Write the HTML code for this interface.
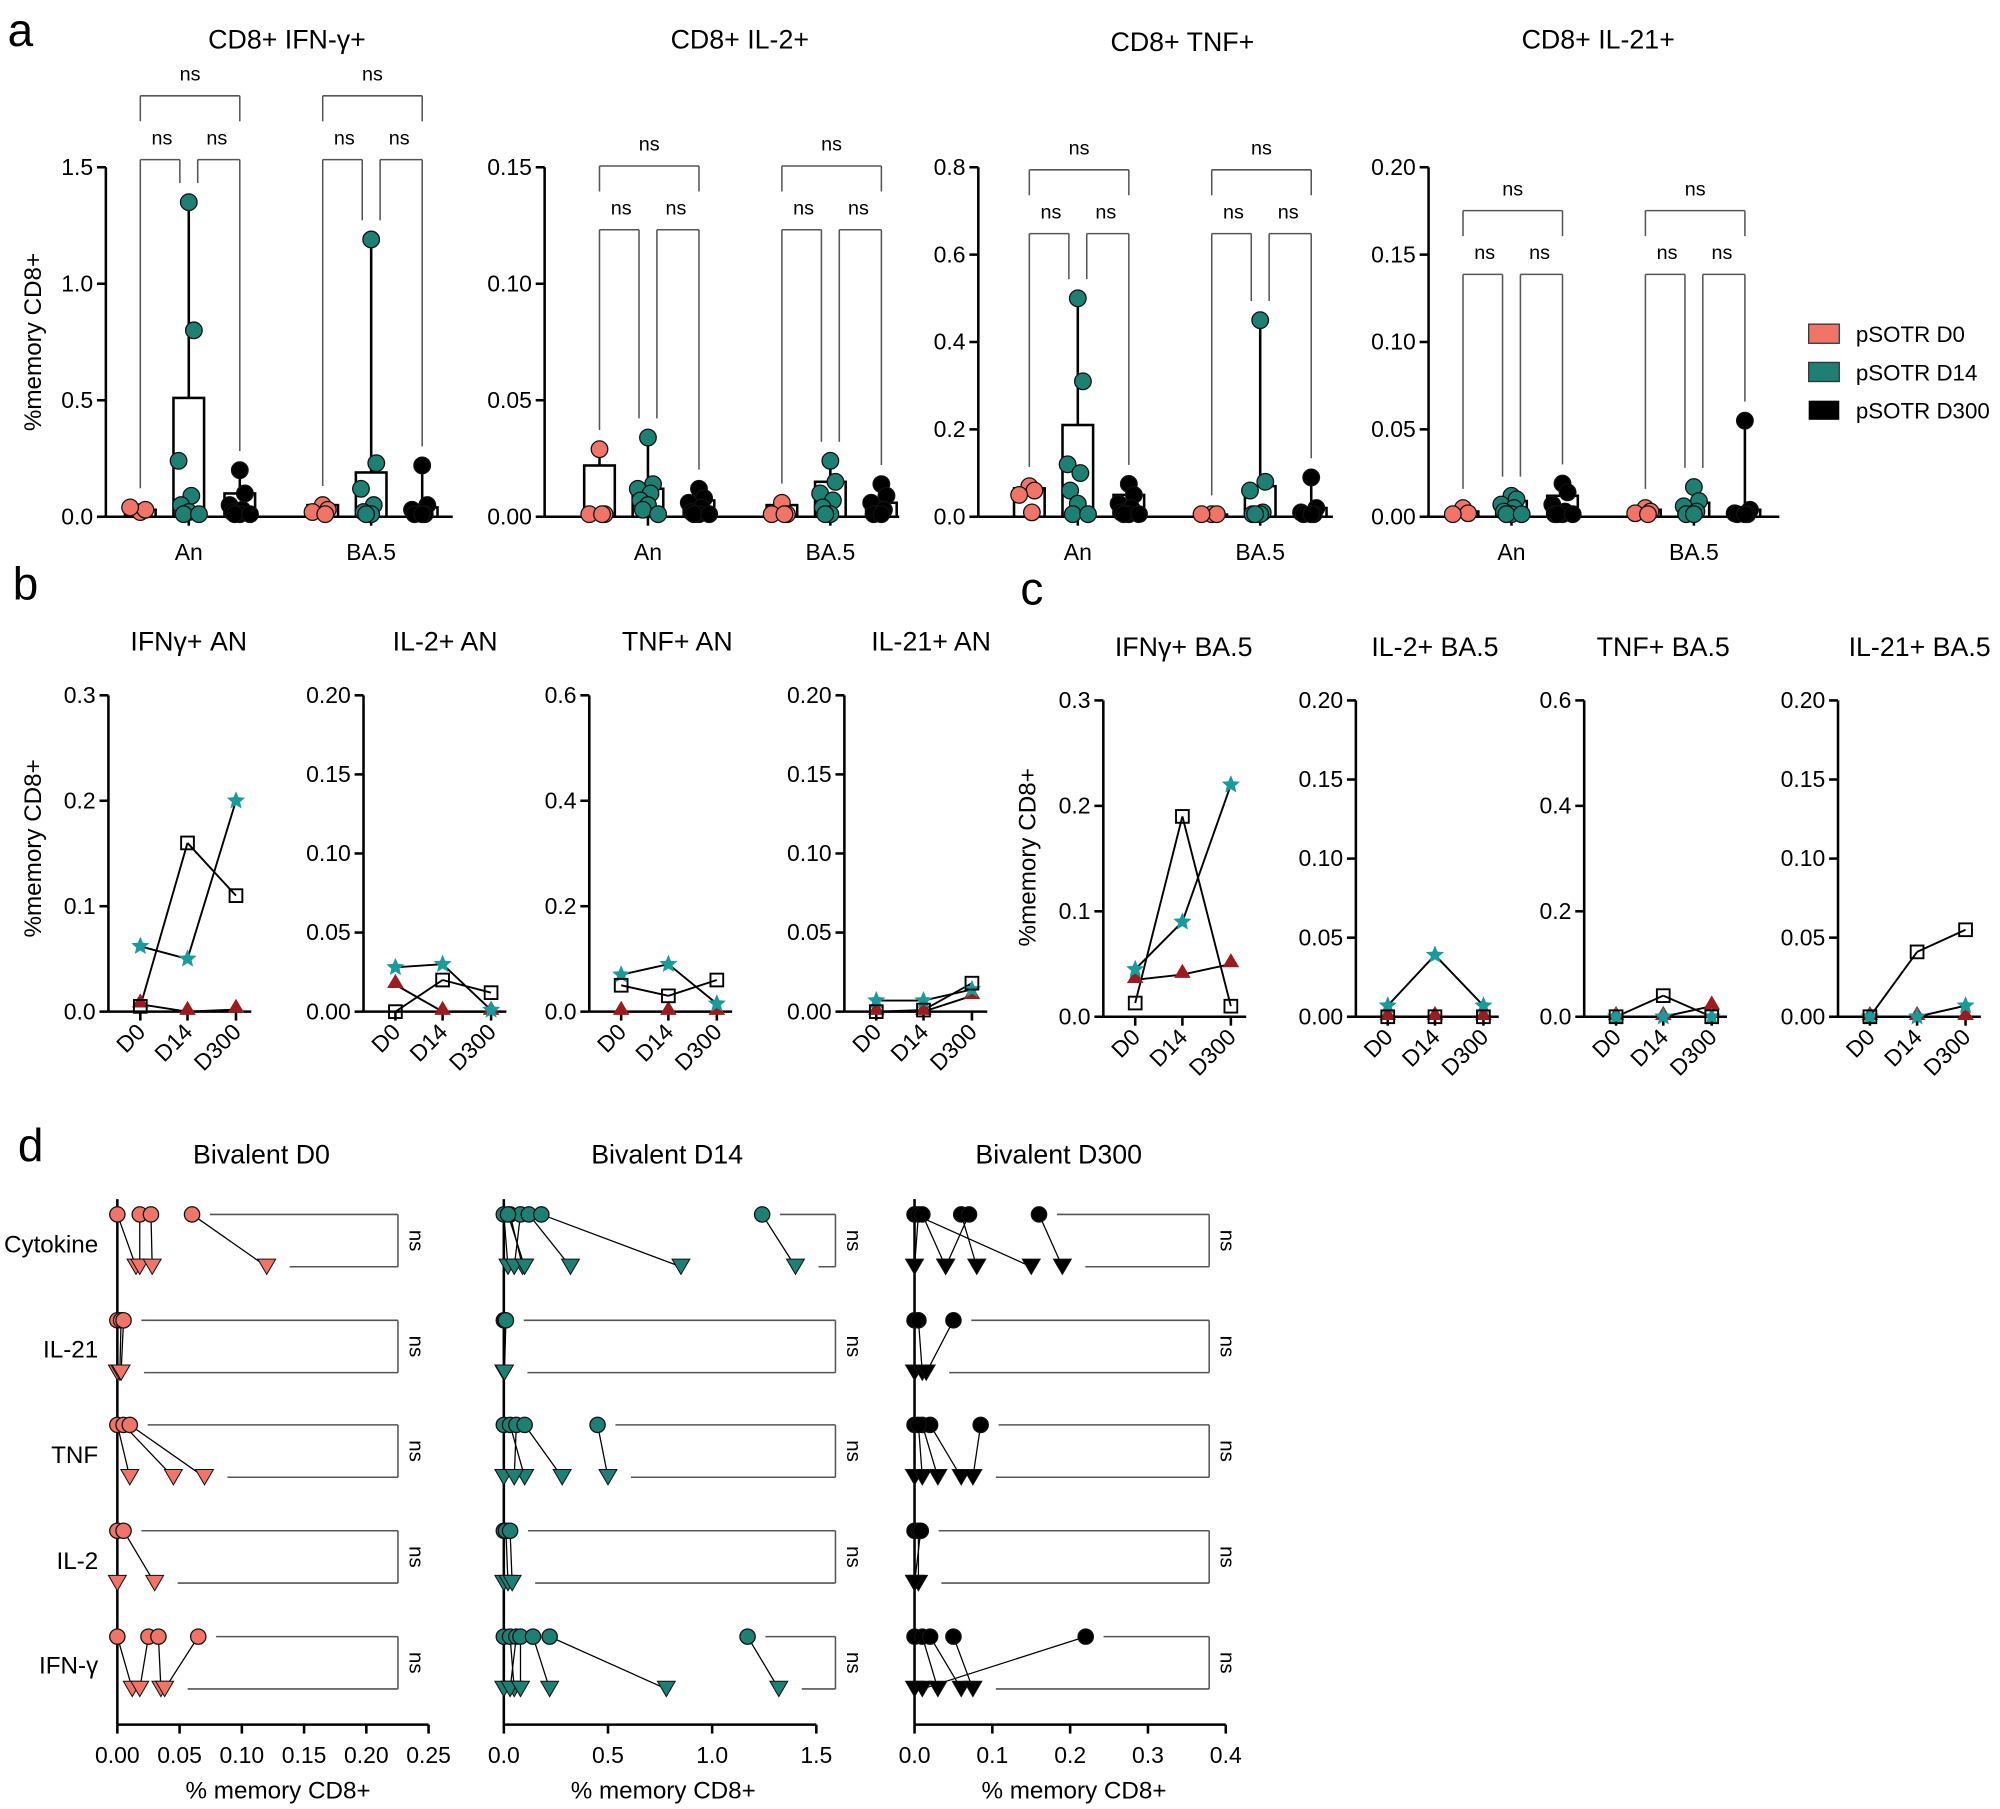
<!DOCTYPE html>
<html><head><meta charset="utf-8">
<style>
html,body{margin:0;padding:0;background:#fff;}
svg{display:block;}
text{font-family:"Liberation Sans",Arial,sans-serif;fill:#000;}
</style></head>
<body>
<svg id="s" width="2000" height="1809" viewBox="0 0 1568 1418" xmlns="http://www.w3.org/2000/svg">
<rect width="1568" height="1418" fill="#fff"/>
<text x="6" y="36" font-size="36">a</text>
<text x="10" y="470" font-size="36">b</text>
<text x="800" y="474" font-size="36">c</text>
<text x="14" y="910" font-size="36">d</text>
<text x="225" y="38" font-size="21" text-anchor="middle">CD8+ IFN-γ+</text>
<text x="580" y="38" font-size="21" text-anchor="middle">CD8+ IL-2+</text>
<text x="927" y="40" font-size="21" text-anchor="middle">CD8+ TNF+</text>
<text x="1253" y="38" font-size="21" text-anchor="middle">CD8+ IL-21+</text>
<text transform="translate(32,268) rotate(-90)" font-size="19" text-anchor="middle">%memory CD8+</text>
<text transform="translate(32,665) rotate(-90)" font-size="19" text-anchor="middle">%memory CD8+</text>
<text transform="translate(812,672) rotate(-90)" font-size="19" text-anchor="middle">%memory CD8+</text>
<rect x="1418" y="254" width="24" height="15" fill="#F07467" stroke="#333"/>
<rect x="1418" y="284" width="24" height="15" fill="#1E7F73" stroke="#333"/>
<rect x="1418" y="314" width="24" height="15" fill="#000"/>
<text x="1455" y="268" font-size="17.5">pSOTR D0</text>
<text x="1455" y="298" font-size="17.5">pSOTR D14</text>
<text x="1455" y="328" font-size="17.5">pSOTR D300</text>
<text x="148" y="510" font-size="21" text-anchor="middle">IFNγ+ AN</text>
<text x="349" y="510" font-size="21" text-anchor="middle">IL-2+ AN</text>
<text x="531" y="510" font-size="21" text-anchor="middle">TNF+ AN</text>
<text x="730" y="510" font-size="21" text-anchor="middle">IL-21+ AN</text>
<text x="928" y="514" font-size="21" text-anchor="middle">IFNγ+ BA.5</text>
<text x="1125" y="514" font-size="21" text-anchor="middle">IL-2+ BA.5</text>
<text x="1304" y="514" font-size="21" text-anchor="middle">TNF+ BA.5</text>
<text x="1505" y="514" font-size="21" text-anchor="middle">IL-21+ BA.5</text>
<text x="205" y="912" font-size="21" text-anchor="middle">Bivalent D0</text>
<text x="523" y="912" font-size="21" text-anchor="middle">Bivalent D14</text>
<text x="830" y="912" font-size="21" text-anchor="middle">Bivalent D300</text>
<text x="77" y="982" font-size="19" text-anchor="end">Cytokine</text>
<text x="77" y="1064" font-size="19" text-anchor="end">IL-21</text>
<text x="77" y="1147" font-size="19" text-anchor="end">TNF</text>
<text x="77" y="1230" font-size="19" text-anchor="end">IL-2</text>
<text x="77" y="1312" font-size="19" text-anchor="end">IFN-γ</text>
<text x="218" y="1410" font-size="19" text-anchor="middle">% memory CD8+</text>
<text x="520" y="1410" font-size="19" text-anchor="middle">% memory CD8+</text>
<text x="842" y="1410" font-size="19" text-anchor="middle">% memory CD8+</text>
<text x="148" y="439" font-size="18" text-anchor="middle">An</text>
<text x="291" y="439" font-size="18" text-anchor="middle">BA.5</text>
<text x="508" y="439" font-size="18" text-anchor="middle">An</text>
<text x="651" y="439" font-size="18" text-anchor="middle">BA.5</text>
<text x="845" y="439" font-size="18" text-anchor="middle">An</text>
<text x="988" y="439" font-size="18" text-anchor="middle">BA.5</text>
<text x="1185" y="439" font-size="18" text-anchor="middle">An</text>
<text x="1328" y="439" font-size="18" text-anchor="middle">BA.5</text>
<g id="g"></g>
</svg>
<script>
var G=document.getElementById('g'),h='';
var S='#F07467',T='#1E7F73',K='#000',ST='#1A9A9A',DR='#9B1B1E';
function L(a,b,c,d,w,col){h+='<line x1="'+a+'" y1="'+b+'" x2="'+c+'" y2="'+d+'" stroke="'+(col||'#000')+'" stroke-width="'+(w||1.5)+'"/>';}
function TX(x,y,s,fs,an,rot){h+='<text x="'+x+'" y="'+y+'" font-size="'+fs+'" text-anchor="'+(an||'middle')+'"'+(rot?' transform="rotate('+rot+' '+x+' '+y+')"':'')+'>'+s+'</text>';}
function C(x,y,r,f){h+='<circle cx="'+x+'" cy="'+y+'" r="'+r+'" fill="'+f+'" stroke="#111" stroke-width="1"/>';}
function fmt(v,d){return v.toFixed(d);}
var P=[
{x0:83,xe:355,max:1.5,tk:[0,0.5,1,1.5],d:1,gc:[148,291],bo:75,bi:125,g:[
 [[0.03,[0.02,0.03,0.04]],[0.51,[1.35,0.8,0.24,0.09,0.05,0.02,0,0]],[0.1,[0.2,0.1,0.05,0.03,0.02,0.01,0,0]]],
 [[0.05,[0.05,0.03,0.02,0.01]],[0.19,[1.19,0.23,0.12,0.05,0.02,0,0]],[0.04,[0.22,0.05,0.03,0.01,0,0]]]]},
{x0:427,xe:705,max:0.15,tk:[0,0.05,0.1,0.15],d:2,gc:[508,651],bo:130,bi:180,g:[
 [[0.022,[0.029,0.001,0.001,0.001]],[0.012,[0.034,0.014,0.012,0.01,0.007,0.005,0.003,0.001]],[0.007,[0.012,0.008,0.006,0.004,0.002,0.001,0,0]]],
 [[0.005,[0.006,0.001,0.001,0.001]],[0.015,[0.024,0.015,0.01,0.007,0.004,0.001,0.001]],[0.006,[0.014,0.009,0.006,0.003,0.001,0]]]]},
{x0:767,xe:1045,max:0.8,tk:[0,0.2,0.4,0.6,0.8],d:1,gc:[845,988],bo:133,bi:183,g:[
 [[0.065,[0.07,0.06,0.05,0.01]],[0.21,[0.5,0.31,0.12,0.1,0.06,0.03,0,0]],[0.05,[0.075,0.05,0.03,0.02,0.01,0,0,0]]],
 [[0.005,[0.005,0.003,0.002]],[0.07,[0.45,0.08,0.06,0.01,0,0,0]],[0.02,[0.09,0.02,0.01,0,0,0]]]]},
{x0:1120,xe:1395,max:0.2,tk:[0,0.05,0.1,0.15,0.2],d:2,gc:[1185,1328],bo:165,bi:215,g:[
 [[0.003,[0.005,0.002,0.001]],[0.009,[0.012,0.01,0.007,0.005,0.003,0.001,0,0]],[0.012,[0.019,0.014,0.007,0.003,0.001,0,0,0]]],
 [[0.004,[0.005,0.003,0.002,0.001]],[0.008,[0.017,0.009,0.006,0.003,0.001,0]],[0.004,[0.055,0.004,0.002,0.001,0,0]]]]}];
var Y0=405,YT=131,cols=[S,T,K],off=[-38,0,40];
P.forEach(function(p){
 function y(v){return Y0-(v/p.max)*(Y0-YT);}
 L(p.x0,YT,p.x0,Y0,2);L(p.x0,Y0,p.xe,Y0,2);
 p.tk.forEach(function(t){L(p.x0-7,y(t),p.x0,y(t),2);TX(p.x0-10,y(t)+6,fmt(t,p.d),18,'end');});
 p.gc.forEach(function(gx,gi){
  L(gx,Y0,gx,Y0+7,2);
  var tops=[];
  p.g[gi].forEach(function(s,si){
   var x=gx+off[si],mx=Math.max.apply(null,s[1]);tops.push(y(mx));
   h+='<rect x="'+(x-12)+'" y="'+y(s[0])+'" width="24" height="'+(Y0-y(s[0]))+'" fill="none" stroke="#000" stroke-width="2"/>';
   if(mx>s[0]){L(x,y(mx),x,y(s[0]),2);}
   s[1].forEach(function(v,k){var jx=(k%2?1:-1)*((k*4)%10);if(k==0)jx=0;C(x+jx,Math.min(y(v),Y0-2),6.5,cols[si]);});
  });
  var a=gx-38,b=gx,c=gx+40,g='#555';
  L(a,p.bo,c,p.bo,1.2,g);L(a,p.bo,a,p.bo+20,1.2,g);L(c,p.bo,c,p.bo+20,1.2,g);TX((a+c)/2,p.bo-12,'ns',15.5);
  var lb=function(t){return Math.max(p.bi+10,t-15);};
  L(a,p.bi,b-7,p.bi,1.2,g);L(a,p.bi,a,lb(tops[0]),1.2,g);L(b-7,p.bi,b-7,lb(tops[1]),1.2,g);
  L(b+7,p.bi,c,p.bi,1.2,g);L(b+7,p.bi,b+7,lb(tops[1]),1.2,g);L(c,p.bi,c,lb(tops[2]),1.2,g);
  TX((a+b)/2-2,p.bi-12,'ns',15.5);TX((b+c)/2+2,p.bi-12,'ns',15.5);
 });
});
function star(x,y,r,f){var pts=[];for(var i=0;i<10;i++){var a=-Math.PI/2+i*Math.PI/5,rr=i%2?r*0.45:r;pts.push((x+rr*Math.cos(a)).toFixed(1)+','+(y+rr*Math.sin(a)).toFixed(1));}h+='<polygon points="'+pts.join(' ')+'" fill="'+f+'"/>';}
function tri(x,y,r,f){h+='<polygon points="'+x+','+(y-r)+' '+(x+r)+','+(y+r*0.7)+' '+(x-r)+','+(y+r*0.7)+'" fill="'+f+'"/>';}
var B=[
{x0:85,y0:793,yt:545,max:0.3,tk:[0,0.1,0.2,0.3],d:1,sq:[0.005,0.16,0.11],st:[0.062,0.05,0.2],tr:[0.007,0,0.002]},
{x0:285,y0:793,yt:545,max:0.2,tk:[0,0.05,0.1,0.15,0.2],d:2,sq:[0,0.02,0.012],st:[0.028,0.03,0.001],tr:[0.017,0,0]},
{x0:462,y0:793,yt:545,max:0.6,tk:[0,0.2,0.4,0.6],d:1,sq:[0.05,0.03,0.06],st:[0.07,0.09,0.015],tr:[0,0,0]},
{x0:662,y0:793,yt:545,max:0.2,tk:[0,0.05,0.1,0.15,0.2],d:2,sq:[0,0.001,0.018],st:[0.007,0.007,0.014],tr:[0,0,0.01]},
{x0:865,y0:797,yt:549,max:0.3,tk:[0,0.1,0.2,0.3],d:1,sq:[0.013,0.19,0.01],st:[0.045,0.09,0.22],tr:[0.035,0.04,0.05]},
{x0:1063,y0:797,yt:549,max:0.2,tk:[0,0.05,0.1,0.15,0.2],d:2,sq:[0,0,0],st:[0.007,0.039,0.007],tr:[0,0,0]},
{x0:1242,y0:797,yt:549,max:0.6,tk:[0,0.2,0.4,0.6],d:1,sq:[0,0.04,0],st:[0,0,0],tr:[0,0,0.02]},
{x0:1441,y0:797,yt:549,max:0.2,tk:[0,0.05,0.1,0.15,0.2],d:2,sq:[0,0.041,0.055],st:[0,0,0.007],tr:[0,0,0]}];
B.forEach(function(p){
 function y(v){return p.y0-(v/p.max)*(p.y0-p.yt);}
 var xs=[p.x0+25,p.x0+62,p.x0+100];
 L(p.x0,p.yt,p.x0,p.y0,2);L(p.x0,p.y0,p.x0+112,p.y0,2);
 p.tk.forEach(function(t){L(p.x0-7,y(t),p.x0,y(t),2);TX(p.x0-10,y(t)+6,fmt(t,p.d),18,'end');});
 ['D0','D14','D300'].forEach(function(l,i){L(xs[i],p.y0,xs[i],p.y0+7,2);TX(xs[i]+5,p.y0+17,l,18,'end',-45);});
 [p.sq,p.st,p.tr].forEach(function(s){for(var i=0;i<2;i++)L(xs[i],y(s[i]),xs[i+1],y(s[i+1]),1.5);});
 p.tr.forEach(function(v,i){tri(xs[i],y(v)-2,6.5,DR);});
 p.st.forEach(function(v,i){star(xs[i],y(v),7.5,ST);});
 p.sq.forEach(function(v,i){h+='<rect x="'+(xs[i]-5)+'" y="'+(y(v)-5)+'" width="10" height="10" fill="none" stroke="#000" stroke-width="1.5"/>';});
});
var RY=[[952,993],[1035,1076],[1117,1158],[1200,1241],[1283,1324]];
var D=[
{x0:92,x1:336,max:0.25,tk:[0,0.05,0.1,0.15,0.2,0.25],d:2,bx:312,col:S,rows:[
 [[0,0.015],[0.018,0.018],[0.027,0.028],[0.06,0.12]],[[0,0],[0.003,0.002],[0.005,0.003]],[[0,0.01],[0.005,0.045],[0.01,0.07]],[[0,0],[0.005,0.03]],[[0,0.012],[0.025,0.018],[0.033,0.035],[0.065,0.038]]]},
{x0:395,x1:640,max:1.5,tk:[0,0.5,1,1.5],d:1,bx:655,col:T,rows:[
 [[0,0.02],[0.03,0.09],[0.08,0.05],[0.12,0.32],[0.18,0.85],[1.24,1.4],[0.02,0.1]],[[0,0],[0.005,0.002],[0.01,0.003]],[[0,0],[0.03,0.1],[0.06,0.05],[0.1,0.28],[0.45,0.5]],[[0,0],[0.01,0.02],[0.03,0.04]],[[0,0],[0.03,0.05],[0.06,0.03],[0.08,0.08],[0.14,0.22],[0.22,0.78],[1.17,1.32]]]},
{x0:717,x1:961,max:0.4,tk:[0,0.1,0.2,0.3,0.4],d:1,bx:948,col:K,rows:[
 [[0,0.15],[0.005,0],[0.01,0.04],[0.06,0.08],[0.07,0.04],[0.16,0.19]],[[0,0],[0.005,0.01],[0.05,0.015]],[[0,0],[0.01,0.03],[0.02,0.06],[0.085,0.075],[0.005,0.01]],[[0,0],[0.005,0.005],[0.008,0]],[[0,0],[0.01,0.03],[0.02,0.06],[0.05,0.075],[0.22,0.01]]]}];
D.forEach(function(p){
 function x(v){return p.x0+(v/p.max)*(p.x1-p.x0);}
 L(p.x0,940,p.x0,1352,2);L(p.x0,1352,p.x1,1352,2);
 p.tk.forEach(function(t){L(x(t),1352,x(t),1359,2);TX(x(t),1382,fmt(t,p.d),18);});
 p.rows.forEach(function(r,ri){
  var yc=RY[ri][0],yt=RY[ri][1],mc=0,mt=0;
  r.forEach(function(q){L(x(q[0]),yc,x(q[1]),yt,1);mc=Math.max(mc,x(q[0]));mt=Math.max(mt,x(q[1]));});
  r.forEach(function(q){C(x(q[0]),yc,6,p.col);var tx=x(q[1]);h+='<polygon points="'+(tx-7)+','+(yt-6)+' '+(tx+7)+','+(yt-6)+' '+tx+','+(yt+6)+'" fill="'+p.col+'" stroke="#111" stroke-width="0.8"/>';});
  var g='#555';L(mc+14,yc,p.bx,yc,1.2,g);L(mt+18,yt,p.bx,yt,1.2,g);L(p.bx,yc,p.bx,yt,1.2,g);
  TX(p.bx+9,(yc+yt)/2,'ns',16,'middle',90);
 });
});
G.innerHTML=h;
</script>
</body></html>
